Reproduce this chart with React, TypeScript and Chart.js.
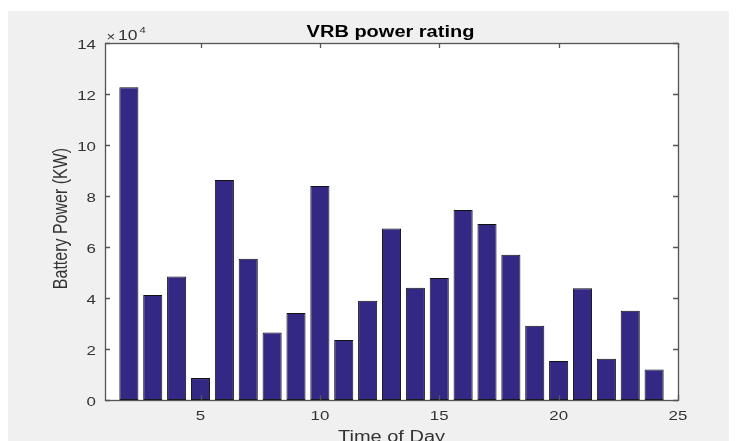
import React, { useEffect, useRef } from "react";
import { Chart, registerables } from "chart.js";

Chart.register(...registerables);

const hours = [2, 3, 4, 5, 6, 7, 8, 9, 10, 11, 12, 13, 14, 15, 16, 17, 18, 19, 20, 21, 22, 23, 24];
const powerKW = [
  122600, 41200, 48400, 8600, 86300, 55400, 26500, 34100, 83900, 23500, 38900, 67300,
  44000, 47800, 74500, 69000, 57000, 29100, 15300, 43800, 16200, 35000, 12000,
];
const xTicks = [5, 10, 15, 20, 25];
const yTicks = [0, 20000, 40000, 60000, 80000, 100000, 120000, 140000];
const yTickLabels = ["0", "2", "4", "6", "8", "10", "12", "14"];

const TITLE = "VRB power rating";
const X_LABEL = "Time of Day";
const Y_LABEL = "Battery Power (KW)";

const AXIS = "#555555";
const TEXT = "#333333";
const FONT = "Arial, 'Liberation Sans', Helvetica, sans-serif";
const SX = 1.25; // horizontal stretch of the source image

function stretchedText(ctx: any, text: string, x: number, y: number, font: string, align: string, color: string) {
  ctx.save();
  ctx.font = font;
  ctx.fillStyle = color;
  ctx.textAlign = align;
  ctx.textBaseline = "alphabetic";
  ctx.translate(x, y);
  ctx.scale(SX, 1);
  ctx.fillText(text, 0, 0);
  ctx.restore();
}

const decorPlugin = {
  id: "decor",
  beforeDraw(chart: any) {
    const { ctx, width, height } = chart;
    ctx.save();
    ctx.fillStyle = "#f0f0f0";
    ctx.fillRect(0, 0, width, height);
    const a = chart.chartArea;
    ctx.fillStyle = "#ffffff";
    ctx.fillRect(a.left, a.top, a.right - a.left, a.bottom - a.top);
    ctx.restore();
  },
  afterDraw(chart: any) {
    const { ctx } = chart;
    const a = chart.chartArea;
    const xs = chart.scales.x;
    const ys = chart.scales.y;
    ctx.save();
    // box
    ctx.strokeStyle = AXIS;
    ctx.lineWidth = 1.3;
    ctx.strokeRect(Math.round(a.left) + 0.5, Math.round(a.top) + 0.5, Math.round(a.right - a.left), Math.round(a.bottom - a.top));
    // inward ticks
    const tl = 5;
    ctx.beginPath();
    xTicks.forEach((v) => {
      const px = Math.round(xs.getPixelForValue(v)) + 0.5;
      ctx.moveTo(px, a.bottom);
      ctx.lineTo(px, a.bottom - tl);
      ctx.moveTo(px, a.top);
      ctx.lineTo(px, a.top + tl);
    });
    yTicks.forEach((v) => {
      const py = Math.round(ys.getPixelForValue(v)) + 0.5;
      ctx.moveTo(a.left, py);
      ctx.lineTo(a.left + tl, py);
      ctx.moveTo(a.right, py);
      ctx.lineTo(a.right - tl, py);
    });
    ctx.stroke();
    ctx.restore();

    const tickFont = `13.5px ${FONT}`;
    // x tick labels
    xTicks.forEach((v) => {
      stretchedText(ctx, String(v), xs.getPixelForValue(v), a.bottom + 20, tickFont, "center", TEXT);
    });
    // y tick labels
    yTicks.forEach((v, i) => {
      stretchedText(ctx, yTickLabels[i], a.left - 9, ys.getPixelForValue(v) + 5.5, tickFont, "right", TEXT);
    });

    const cx = (a.left + a.right) / 2;
    // title
    stretchedText(ctx, TITLE, cx - 1, 25.5, `bold 16px ${FONT}`, "center", "#000000");

    // exponent label
    stretchedText(ctx, "\u00d7", a.left + 1.5, 29.5, `12px ${FONT}`, "left", TEXT);
    stretchedText(ctx, "10", a.left + 13, 29.3, `14px ${FONT}`, "left", TEXT);
    stretchedText(ctx, "4", a.left + 34.5, 22, `9px ${FONT}`, "left", TEXT);

    // x label
    stretchedText(ctx, X_LABEL, cx, 430.5, `16px ${FONT}`, "center", TEXT);

    // y label (rotated)
    ctx.save();
    ctx.font = `16px ${FONT}`;
    ctx.fillStyle = TEXT;
    ctx.textAlign = "center";
    ctx.textBaseline = "alphabetic";
    ctx.translate(58.5, 207.5);
    ctx.rotate(-Math.PI / 2);
    ctx.scale(1, SX);
    ctx.fillText(Y_LABEL, 0, 0);
    ctx.restore();
  },
};

export default function App() {
  const ref = useRef<HTMLCanvasElement>(null);
  useEffect(() => {
    if (!ref.current) return;
    const chart = new Chart(ref.current, {
      type: "bar",
      data: {
        datasets: [
          {
            data: hours.map((h, i) => ({ x: h, y: powerKW[i] })),
            backgroundColor: "#332985",
            borderColor: "#111111",
            borderWidth: 1,
            borderSkipped: false,
            barPercentage: 0.8,
            categoryPercentage: 1,
          },
        ],
      },
      options: {
        animation: false,
        responsive: false,
        devicePixelRatio: 1,
        layout: { padding: { top: 32, right: 59, left: 0, bottom: 0 } },
        plugins: { legend: { display: false }, tooltip: { enabled: false }, title: { display: false } },
        scales: {
          x: {
            type: "linear",
            min: 1,
            max: 25,
            offset: false,
            grid: { display: false, drawTicks: false },
            border: { display: false },
            ticks: { display: false },
            afterBuildTicks: (s: any) => {
              s.ticks = xTicks.map((v) => ({ value: v }));
            },
            afterFit: (s: any) => {
              s.height = 41;
            },
          },
          y: {
            min: 0,
            max: 140000,
            grid: { display: false, drawTicks: false },
            border: { display: false },
            ticks: { display: false },
            afterBuildTicks: (s: any) => {
              s.ticks = yTicks.map((v) => ({ value: v }));
            },
            afterFit: (s: any) => {
              s.width = 97;
            },
          },
        },
      },
      plugins: [decorPlugin],
    });
    return () => chart.destroy();
  }, []);
  return (
    <div style={{ marginTop: 3 }}>
      <canvas ref={ref} width={729} height={430} style={{ display: "block" }} />
    </div>
  );
}
